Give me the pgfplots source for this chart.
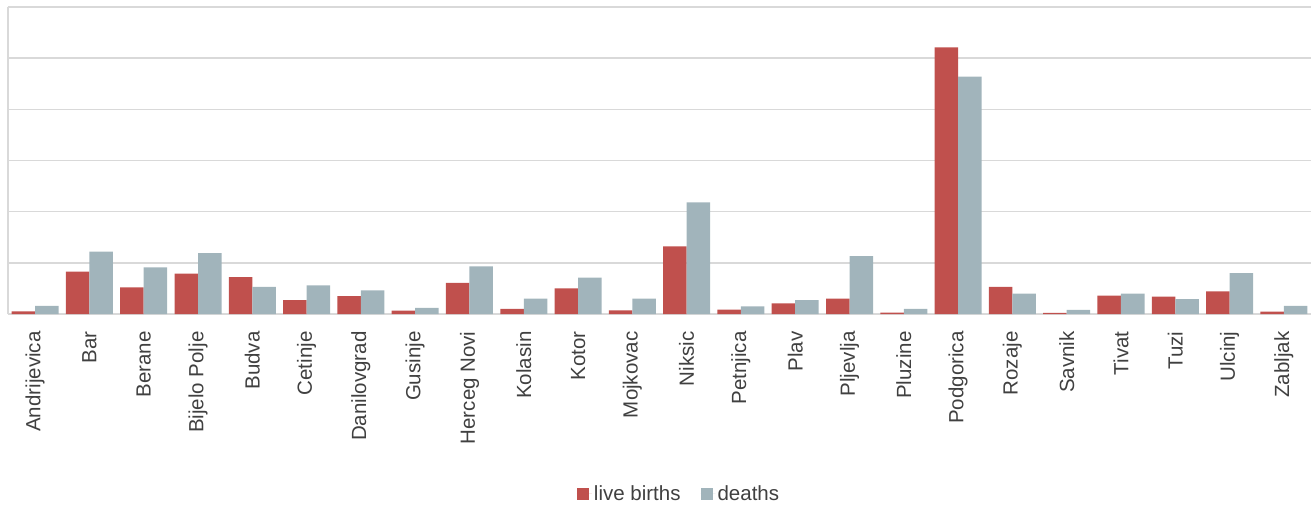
\documentclass[border=0pt]{standalone}
\usepackage{pgfplots}
\pgfplotsset{compat=1.18}
\usepackage{pgfplotstable}
\usepackage{fontspec}
\setmainfont{Liberation Sans}
\definecolor{births}{RGB}{192,80,77}
\definecolor{deaths}{RGB}{161,180,187}
\definecolor{gridgray}{RGB}{217,217,217}
\definecolor{labelgray}{RGB}{64,64,64}

% heights in units of one grid step
\pgfplotstableread{
idx births deaths
0  0.05  0.16
1  0.83  1.22
2  0.52  0.91
3  0.79  1.19
4  0.72  0.53
5  0.27  0.56
6  0.35  0.46
7  0.065 0.12
8  0.61  0.93
9  0.10  0.30
10 0.50  0.71
11 0.07  0.30
12 1.32  2.18
13 0.085 0.15
14 0.21  0.27
15 0.30  1.13
16 0.025 0.10
17 5.21  4.64
18 0.53  0.40
19 0.02  0.08
20 0.36  0.40
21 0.34  0.29
22 0.44  0.80
23 0.045 0.16
}\munidata

\begin{document}
\begin{tikzpicture}
\begin{axis}[
  name=ax,
  scale only axis,
  width=1303bp, height=307bp,
  ybar=0pt, bar width=0.433,
  xmin=-0.5, xmax=23.5, ymin=0, ymax=6,
  ytick={0,1,2,3,4,5,6}, yticklabels={},
  ymajorgrids, grid style={gridgray, line width=1.5bp},
  axis x line*=bottom, axis y line*=left,
  axis line style={gridgray, line width=1.5bp, -},
  tick style={draw=none},
  xtick=data,
  xticklabels={Andrijevica,Bar,Berane,Bijelo Polje,Budva,Cetinje,Danilovgrad,Gusinje,Herceg Novi,Kolasin,Kotor,Mojkovac,Niksic,Petnjica,Plav,Pljevlja,Pluzine,Podgorica,Rozaje,Savnik,Tivat,Tuzi,Ulcinj,Zabljak},
  xticklabel style={yshift=-13bp, rotate=90, anchor=east, inner sep=0pt,
    font=\fontsize{20.5bp}{24bp}\selectfont, text=labelgray},
  legend style={at={(0.515,-0.586)}, anchor=center, draw=none,
    legend columns=2, font=\fontsize{20.5bp}{24bp}\selectfont, text=labelgray,
    /tikz/every even column/.append style={column sep=18bp}},
  legend image code/.code={\fill[#1] (0bp,-6bp) rectangle (12bp,6bp);
    \path (0bp,0bp) -- (15bp,0bp);},
]
\addplot[fill=births, draw=none] table[x=idx, y=births] {\munidata};
\addplot[fill=deaths, draw=none] table[x=idx, y=deaths] {\munidata};
\legend{live births, deaths}
\end{axis}
\pgfresetboundingbox
\path ([shift={(-8bp,-192bp)}]ax.south west) rectangle ([shift={(0bp,7bp)}]ax.north east);
\end{tikzpicture}
\end{document}
